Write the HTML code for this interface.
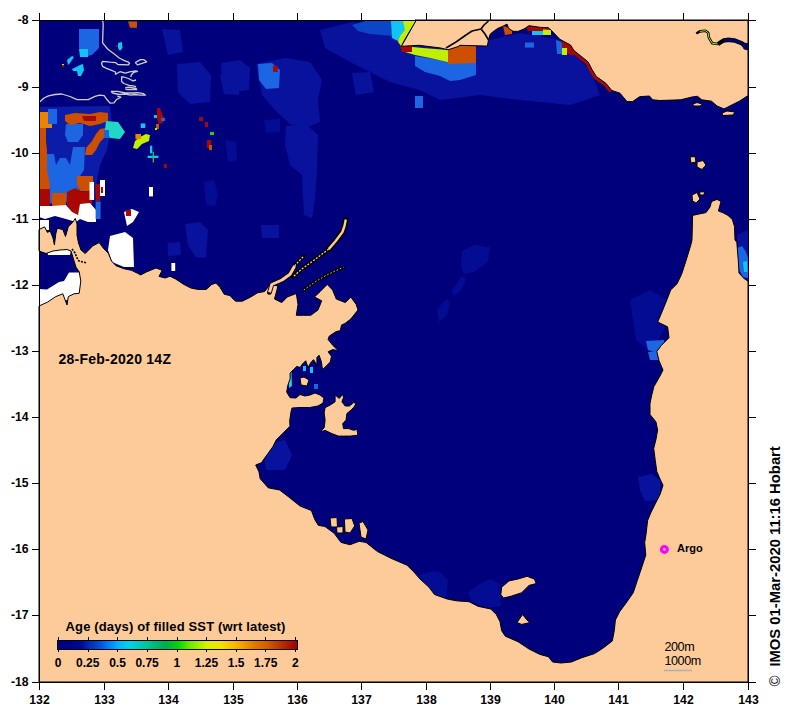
<!DOCTYPE html>
<html><head><meta charset="utf-8"><style>
html,body{margin:0;padding:0;background:#fff;overflow:hidden;width:791px;height:716px;}
svg{display:block}
text{font-family:"Liberation Sans",sans-serif;}
</style></head><body>
<svg width="791" height="716" viewBox="0 0 791 716">
<rect x="39" y="20" width="709" height="662" fill="#00007C"/>
<polygon points="320.0,30.0 352.0,22.0 400.0,30.0 420.0,44.0 470.0,47.0 490.0,40.0 520.0,33.0 560.0,40.0 590.0,70.0 600.0,95.0 570.0,105.0 520.0,100.0 480.0,95.0 440.0,100.0 420.0,90.0 390.0,82.0 350.0,62.0 325.0,48.0" fill="#08129C"/><polygon points="256.0,64.0 285.0,58.0 310.0,62.0 322.0,80.0 318.0,100.0 320.0,122.0 305.0,128.0 290.0,124.0 275.0,110.0 262.0,95.0" fill="#08129C"/><polygon points="286.0,126.0 306.0,124.0 318.0,135.0 317.0,170.0 315.0,200.0 312.0,218.0 304.0,215.0 302.0,175.0 290.0,165.0 285.0,145.0" fill="#08129C"/><polygon points="221.0,63.0 240.0,60.0 250.0,68.0 249.0,90.0 232.0,92.0 222.0,84.0" fill="#08129C"/><polygon points="352.0,73.0 370.0,72.0 374.0,92.0 356.0,95.0" fill="#08129C"/><polygon points="162.0,29.0 180.0,30.0 183.0,52.0 168.0,55.0" fill="#08129C"/><polygon points="177.0,64.0 200.0,62.0 211.0,75.0 210.0,102.0 190.0,104.0 178.0,92.0" fill="#08129C"/><polygon points="220.0,75.0 239.0,74.0 239.0,95.0 224.0,94.0" fill="#08129C"/><polygon points="204.0,182.0 214.0,180.0 218.0,195.0 215.0,206.0 206.0,205.0" fill="#040C93"/><polygon points="225.0,140.0 236.0,142.0 237.0,160.0 228.0,162.0" fill="#040C93"/><polygon points="264.0,120.0 280.0,119.0 280.0,132.0 266.0,133.0" fill="#040C93"/><polygon points="462.0,251.0 474.0,245.0 490.0,247.0 488.0,262.0 474.0,272.0 464.0,274.0 461.0,266.0" fill="#040C93"/><polygon points="452.0,290.0 462.0,276.0 466.0,280.0 460.0,292.0 453.0,296.0" fill="#040C93"/><polygon points="437.0,310.0 446.0,299.0 450.0,302.0 447.0,315.0 439.0,322.0" fill="#040C93"/><polygon points="630.0,300.0 650.0,290.0 668.0,300.0 664.0,330.0 650.0,352.0 636.0,340.0" fill="#040C93"/><polygon points="418.0,576.0 432.0,571.0 440.0,572.0 448.0,580.0 446.0,599.0 432.0,597.0 420.0,588.0" fill="#040C93"/><polygon points="468.0,592.0 480.0,584.0 490.0,579.0 500.0,584.0 501.0,606.0 488.0,608.0 472.0,602.0" fill="#040C93"/><polygon points="262.0,445.0 285.0,440.0 292.0,455.0 285.0,470.0 266.0,470.0" fill="#08129C"/><polygon points="258.0,64.0 272.0,63.0 280.0,70.0 279.0,88.0 266.0,89.0 259.0,80.0" fill="#1C66E4"/><polygon points="352.0,25.0 365.0,21.0 394.0,21.0 394.0,36.0 370.0,34.0 358.0,31.0" fill="#0A46C8"/><polygon points="415.0,56.0 440.0,60.0 476.0,62.0 476.0,75.0 460.0,80.0 450.0,81.0 440.0,76.0 425.0,72.0 415.0,66.0" fill="#1C66E4"/><polygon points="415.0,96.0 423.0,96.0 423.0,108.0 415.0,108.0" fill="#1C66E4"/><polygon points="525.0,42.5 534.0,42.5 534.0,47.6 525.0,47.6" fill="#1C66E4"/><polygon points="737.0,235.0 748.0,230.0 748.0,281.0 740.0,278.0" fill="#08129C"/><polygon points="737.5,248.0 742.0,246.0 746.0,252.0 748.0,258.0 748.0,278.0 743.0,277.0 739.0,270.0" fill="#1C66E4"/><polygon points="743.0,262.0 747.0,261.0 747.5,272.0 744.0,272.0" fill="#10C4F4"/><polygon points="646.0,341.0 664.0,340.0 665.0,350.0 655.0,352.0 648.0,350.0" fill="#1C66E4"/><polygon points="648.0,352.0 667.0,350.0 668.0,360.0 650.0,360.0" fill="#1C66E4"/><polygon points="391.0,21.0 404.0,21.0 407.0,30.0 404.0,40.0 398.0,41.0 392.0,38.0" fill="#10C4F4"/><polygon points="403.0,21.0 415.5,21.0 410.0,30.0 404.0,40.0 401.0,46.0 398.0,42.0 400.0,36.0 405.0,30.0" fill="#C0F000"/><polygon points="403.0,46.0 423.0,48.0 448.0,50.0 448.0,62.0 430.0,58.0 415.0,55.0 405.0,52.0" fill="#C0F000"/><polygon points="400.0,46.0 412.0,46.0 412.0,52.0 402.0,52.0" fill="#A80800"/><polygon points="448.0,46.0 476.0,46.0 476.0,63.0 448.0,64.0" fill="#CC5000"/><polygon points="503.0,26.0 512.0,29.0 512.0,34.0 505.0,35.0" fill="#CC5000"/><polygon points="526.0,26.0 551.0,28.0 551.0,31.0 528.0,31.0" fill="#A80800"/><polygon points="532.0,31.0 543.0,31.0 543.0,35.0 532.0,35.0" fill="#10C4F4"/><polygon points="543.0,29.5 551.0,30.0 551.0,35.0 543.0,35.0" fill="#C0F000"/><polygon points="556.0,40.0 562.0,42.0 563.0,54.0 557.0,54.0" fill="#1C66E4"/><polygon points="562.0,41.0 572.0,46.0 580.0,55.0 570.0,55.0 563.0,50.0" fill="#A80800"/><polygon points="562.0,48.0 567.0,48.0 567.0,55.0 562.0,55.0" fill="#C0F000"/><polygon points="39.0,107.0 110.0,106.0 112.0,125.0 107.0,150.0 100.0,165.0 97.0,180.0 95.0,200.0 39.0,200.0" fill="#0A1CA8"/><polygon points="40.0,112.0 52.0,112.0 52.0,128.0 40.0,128.0" fill="#EC8400"/><polygon points="39.0,128.0 46.0,128.0 46.0,141.0 47.0,150.0 47.0,160.0 52.0,172.0 52.0,197.0 39.0,197.0" fill="#CC5000"/><polygon points="48.0,109.0 57.0,109.0 57.0,124.0 48.0,124.0" fill="#1C66E4"/><polygon points="66.0,124.0 83.0,124.0 83.0,135.0 78.0,142.0 68.0,142.0 65.0,135.0" fill="#1C66E4"/><polygon points="47.0,154.0 54.0,154.0 56.0,165.0 60.0,158.0 66.0,158.0 70.0,165.0 73.0,147.0 85.0,147.0 84.0,170.0 80.0,176.0 77.0,185.0 80.0,192.0 75.0,200.0 67.0,203.0 62.0,195.0 55.0,197.0 51.0,204.0 47.0,200.0 50.0,185.0 47.0,170.0" fill="#1C66E4"/><polygon points="65.0,115.0 75.0,113.0 90.0,114.0 100.0,112.0 108.0,113.0 108.0,121.0 100.0,124.0 90.0,126.0 80.0,123.0 70.0,125.0 65.0,121.0" fill="#CC5000"/><polygon points="82.0,116.0 96.0,116.0 96.0,121.0 84.0,121.0" fill="#A80800"/><polygon points="100.0,129.0 106.0,128.0 106.0,136.0 100.0,142.0 96.0,150.0 92.0,155.0 85.0,155.0 86.0,148.0 92.0,141.0 96.0,134.0" fill="#CC5000"/><polygon points="77.0,176.0 93.0,176.0 93.0,191.0 80.0,191.0 77.0,185.0" fill="#CC5000"/><polygon points="52.0,193.0 66.0,193.0 66.0,206.0 52.0,206.0" fill="#CC5000"/><polygon points="67.0,192.0 75.0,188.0 82.0,192.0 92.0,190.0 92.0,205.0 85.0,210.0 78.0,215.0 72.0,213.0 67.0,205.0" fill="#A80800"/><polygon points="39.0,189.0 50.0,189.0 50.0,207.0 39.0,207.0" fill="#A80800"/><polygon points="39.0,206.0 52.0,206.0 66.0,205.0 72.0,212.0 78.0,215.0 80.0,204.0 90.0,203.0 96.0,210.0 96.0,222.0 88.0,222.0 80.0,219.0 76.0,222.0 66.0,219.0 55.0,216.0 45.0,219.0 39.0,217.0" fill="#FFFFFF"/><polygon points="39.0,220.0 49.0,220.0 49.0,230.0 39.0,230.0" fill="#FFFFFF"/><polygon points="95.6,201.5 100.6,201.5 100.6,219.0 95.6,219.0" fill="#1C66E4"/><polygon points="89.5,182.0 94.0,182.0 94.0,200.0 89.5,200.0" fill="#FFFFFF"/><polygon points="95.5,184.0 100.0,184.0 100.0,201.0 95.5,201.0" fill="#A80800"/><polygon points="100.0,180.0 105.0,180.0 105.0,196.0 100.0,196.0" fill="#FFFFFF"/><polygon points="101.0,187.0 103.0,187.0 103.0,193.0 101.0,193.0" fill="#A80800"/><polygon points="106.0,121.0 118.0,122.0 125.0,132.0 120.0,139.0 110.0,138.0 105.0,130.0" fill="#20D8C8"/><polygon points="104.0,130.0 109.0,130.0 109.0,138.0 104.0,138.0" fill="#1C66E4"/><polygon points="79.0,29.0 99.0,29.0 99.0,48.0 92.0,55.0 83.0,57.0 79.0,48.0" fill="#1C66E4"/><polygon points="79.0,49.0 88.0,49.0 88.0,57.0 80.0,57.0" fill="#10C4F4"/><polygon points="67.0,60.0 72.0,56.0 74.0,57.0 70.0,63.0 68.0,65.0" fill="#10C4F4"/><polygon points="72.0,69.0 80.0,65.0 83.0,64.0 84.0,70.0 81.0,76.0 78.0,76.0 77.0,71.0 73.0,71.0" fill="#10C4F4"/><polygon points="62.0,64.5 64.0,64.5 64.0,67.0 62.0,67.0" fill="#A80800"/><polygon points="62.0,64.0 64.0,64.0 64.0,65.0 62.0,65.0" fill="#C0F000"/><polygon points="118.0,43.0 122.0,42.0 122.5,48.0 120.0,51.0 118.0,48.0" fill="#10C4F4"/><polygon points="116.0,45.0 118.0,45.0 118.0,47.0 116.0,47.0" fill="#A80800"/><polygon points="128.0,21.5 137.0,21.5 137.0,27.7 130.0,27.7" fill="#CC5000"/><polygon points="146.0,134.0 150.0,135.0 149.0,141.0 142.0,144.0 137.0,149.0 133.0,148.0 135.0,141.0 140.0,137.0" fill="#C0F000"/><polygon points="157.0,108.0 160.0,108.0 162.0,114.0 164.0,118.0 163.0,123.0 159.0,124.0 157.0,119.0" fill="#A80800"/><polygon points="154.0,115.0 157.0,115.0 157.0,118.0 154.0,118.0" fill="#10C4F4"/><polygon points="156.0,124.0 159.0,124.0 159.0,129.0 156.0,129.0" fill="#CC5000"/><polygon points="155.0,128.0 157.0,128.0 157.0,130.0 155.0,130.0" fill="#C0F000"/><polygon points="161.0,118.0 165.0,118.0 165.0,121.0 161.0,121.0" fill="#1C66E4"/><polygon points="150.0,145.7 152.3,145.7 152.3,153.4 150.0,153.4" fill="#10C4F4"/><polygon points="147.6,155.7 158.4,155.7 158.4,158.0 147.6,158.0" fill="#10C4F4"/><polygon points="152.6,151.8 154.0,151.8 154.0,162.6 152.6,162.6" fill="#20C040"/><polygon points="140.7,123.4 145.3,123.4 145.3,128.0 140.7,128.0" fill="#10C4F4"/><polygon points="135.4,134.0 141.0,134.0 141.0,139.0 135.4,139.0" fill="#EC8400"/><polygon points="163.8,164.0 166.8,164.0 166.8,168.0 163.8,168.0" fill="#A80800"/><polygon points="149.0,187.0 153.0,187.0 153.0,196.4 149.0,196.4" fill="#FFFFFF"/><polygon points="110.0,236.0 125.0,232.0 133.0,238.0 134.0,267.0 124.0,267.0 112.0,262.0 108.0,250.0" fill="#FFFFFF"/><polygon points="69.0,272.5 81.0,272.5 81.0,296.0 60.0,302.0 39.0,308.0 39.0,289.0 47.0,289.5 59.0,282.0 64.0,281.0" fill="#FFFFFF"/><polygon points="47.0,250.0 58.0,248.0 71.0,250.0 70.0,255.0 58.0,255.0 48.0,255.0" fill="#FFFFFF"/><polygon points="124.0,212.0 132.0,209.0 139.0,212.0 133.0,222.0 127.0,226.0" fill="#FFFFFF"/><polygon points="126.0,210.0 131.0,210.0 131.0,216.0 126.0,216.0" fill="#A80800"/><polygon points="199.0,117.0 203.0,117.0 203.0,121.0 199.0,121.0" fill="#A80800"/><polygon points="205.0,122.0 208.0,122.0 208.0,127.0 205.0,127.0" fill="#A80800"/><polygon points="207.0,140.0 211.0,140.0 211.0,148.0 207.0,148.0" fill="#A80800"/><polygon points="209.0,145.0 212.0,145.0 212.0,150.0 209.0,150.0" fill="#CC5000"/><polygon points="210.0,132.0 214.0,132.0 214.0,135.0 210.0,135.0" fill="#20D020"/><polygon points="273.0,65.7 277.6,65.7 277.6,72.0 273.0,72.0" fill="#A80800"/><polygon points="563.0,40.5 570.5,45.0 574.0,50.6 581.0,56.2 588.0,61.8 592.0,69.5 596.3,76.5 606.0,83.4 611.7,90.4 609.5,92.6 603.8,85.6 594.1,78.7 589.8,71.7 585.8,64.0 578.8,58.4 571.8,52.8 568.3,47.2 560.8,42.7" fill="#A80800"/><polygon points="167.6,243.0 180.0,242.0 181.0,255.0 168.0,256.0" fill="#08129C"/><polygon points="185.0,224.0 200.0,222.0 208.0,230.0 206.0,258.0 196.0,257.0 188.0,245.0" fill="#08129C"/><polygon points="261.0,225.0 279.0,225.0 279.0,238.0 262.0,238.0" fill="#08129C"/><polygon points="171.4,263.0 175.2,263.0 175.2,271.0 171.4,271.0" fill="#FFFFFF"/><polygon points="288.5,372.0 291.5,371.0 292.0,386.0 289.0,388.0" fill="#10C4F4"/><polygon points="289.0,380.0 291.0,380.0 291.0,386.0 289.0,386.0" fill="#20D8C8"/><polygon points="303.0,366.0 306.0,366.0 306.0,371.0 303.0,371.0" fill="#10C4F4"/><polygon points="310.0,367.0 313.0,367.0 313.0,373.0 310.0,373.0" fill="#10C4F4"/><polygon points="314.0,384.0 318.0,384.0 318.0,389.0 314.0,389.0" fill="#1C66E4"/><polygon points="638.0,477.0 652.0,474.0 660.0,480.0 660.0,500.0 645.0,501.0 640.0,490.0" fill="#08129C"/>
<polygon points="415.0,20.0 748.0,20.0 748.0,95.6 739.4,101.2 731.0,105.4 724.0,108.9 717.0,106.0 711.5,101.2 701.7,99.8 697.5,96.3 692.0,97.0 680.7,99.8 659.8,100.5 652.8,99.8 649.4,96.0 639.6,96.7 632.6,101.6 627.0,101.6 620.0,93.2 611.7,90.4 606.0,83.4 596.3,76.5 592.0,69.5 588.0,61.8 581.0,56.2 574.0,50.6 570.5,45.0 560.0,39.4 551.0,30.0 548.0,27.6 540.7,27.4 529.0,25.7 524.0,29.0 518.0,31.4 513.0,31.3 508.6,28.3 507.0,24.1 502.5,26.4 498.0,28.3 494.0,31.0 490.3,34.0 488.8,38.5 487.3,46.1 460.0,45.3 458.0,46.6 448.0,49.8 440.6,48.0 419.0,45.3 401.4,46.3 416.0,20.7" fill="#FCCB99" stroke="#000" stroke-width="1" stroke-linejoin="round"/>
<polygon points="39.0,306.0 47.4,302.2 55.8,296.6 62.8,293.8 67.0,305.0 68.3,296.6 74.0,293.8 79.2,293.3 80.8,281.0 79.2,271.8 76.0,267.2 71.0,251.0 67.0,249.5 60.0,250.0 53.0,251.0 46.0,253.5 39.0,251.0 39.0,229.6 44.6,226.8 47.4,232.4 50.2,231.0 53.0,238.0 54.4,245.0 55.8,233.8 57.2,228.2 62.8,229.6 65.5,236.5 68.3,226.8 72.5,222.6 75.3,218.4 77.0,224.0 77.0,235.0 78.5,243.0 81.0,250.0 85.2,253.5 93.0,245.7 99.2,242.6 103.8,248.8 108.4,253.4 111.5,261.0 116.0,265.7 123.8,268.7 131.4,270.3 137.6,273.3 140.7,274.9 146.8,271.8 156.0,268.0 162.2,270.3 159.0,276.4 165.2,278.0 170.0,276.2 175.6,279.0 179.7,281.7 184.0,284.5 190.9,288.0 197.8,289.4 206.2,289.4 211.7,284.5 215.9,283.1 220.0,287.3 224.2,294.2 229.8,295.6 235.4,301.2 242.3,301.2 250.7,297.0 257.6,292.8 264.6,291.5 270.1,284.5 278.0,286.0 274.5,299.0 281.8,302.6 287.2,297.0 296.3,293.5 298.0,304.4 296.3,315.3 303.6,315.3 310.8,315.3 318.0,310.0 321.7,300.8 314.5,297.0 320.0,291.7 327.2,284.4 332.6,290.0 336.3,299.0 345.3,302.6 350.8,297.0 356.2,304.4 358.0,310.0 350.8,319.0 345.0,323.5 341.5,325.0 340.4,330.6 335.9,331.7 329.2,336.2 328.1,339.5 332.6,345.1 338.2,350.7 332.6,349.6 328.1,351.8 331.5,356.3 330.3,361.9 325.9,366.4 322.5,369.7 321.4,361.9 319.1,355.2 316.9,357.4 316.9,365.3 313.6,359.7 311.3,361.9 308.0,367.5 305.7,360.8 302.4,364.1 300.1,367.5 296.8,366.4 293.4,369.7 290.1,373.1 290.1,378.7 287.8,385.4 286.7,392.1 290.1,397.7 296.0,398.0 300.0,394.5 305.0,396.0 310.0,395.0 315.0,393.0 320.0,395.0 324.0,398.0 323.0,403.0 318.0,406.0 309.7,407.5 300.0,407.5 292.0,408.0 291.0,412.0 289.7,420.8 290.0,426.2 282.7,433.5 276.2,440.0 272.8,446.8 267.0,454.8 261.4,462.8 255.7,465.0 259.0,471.9 260.2,478.7 268.2,487.8 279.6,490.0 288.7,496.9 300.0,506.0 311.4,510.5 314.9,519.7 318.3,525.3 325.0,526.5 334.2,533.3 341.0,542.4 350.0,544.7 359.2,541.3 366.0,542.4 377.4,551.5 391.0,558.3 407.0,565.2 413.9,572.0 420.0,579.0 429.0,587.2 434.5,594.5 447.2,599.0 456.3,600.8 469.0,601.7 478.0,606.3 490.8,609.0 496.3,614.5 500.0,621.7 501.7,630.8 505.3,636.2 518.0,641.7 529.0,649.0 539.8,654.4 548.4,656.7 552.6,662.0 561.0,663.0 571.4,662.0 581.9,657.7 594.5,653.6 602.8,648.3 612.3,641.0 614.3,630.5 615.4,620.0 619.6,611.7 625.9,603.3 633.2,592.8 637.4,580.3 641.6,567.7 645.8,555.0 644.7,542.6 646.0,534.5 647.6,520.6 650.7,513.0 655.3,503.7 660.0,494.5 663.0,485.3 660.0,479.0 656.8,471.5 655.3,460.7 653.7,448.4 656.0,439.2 657.6,430.0 656.0,422.0 650.0,414.5 650.0,403.7 651.5,396.0 653.8,386.8 660.0,376.0 663.0,370.0 659.0,360.7 656.8,351.5 661.4,345.4 669.0,337.7 667.6,326.8 657.7,322.0 661.5,313.0 666.0,302.0 670.7,290.0 677.0,283.8 681.5,274.5 686.0,260.7 690.7,245.4 692.0,240.0 692.6,215.4 699.0,214.0 706.0,212.6 710.0,207.0 711.5,201.5 717.0,199.4 721.0,201.5 718.4,211.0 722.6,212.6 728.0,215.4 732.4,219.6 734.5,226.6 735.0,240.0 736.8,242.3 738.3,260.7 739.0,273.0 744.5,279.0 748.0,281.0 748.0,682.0 39.0,682.0" fill="#FCCB99" stroke="#000" stroke-width="1" stroke-linejoin="round"/>
<polygon points="325.1,407.6 330.1,405.1 335.1,401.8 335.1,395.0 339.3,398.4 342.7,394.2 343.5,397.6 341.9,401.8 345.2,406.0 349.4,406.0 353.6,402.6 356.1,403.4 353.6,407.6 351.0,410.1 346.9,413.5 346.0,420.2 342.7,423.6 343.5,428.6 348.6,428.6 353.6,430.3 357.0,429.4 357.8,435.3 350.2,436.1 343.5,436.1 338.5,436.1 331.8,433.6 325.1,430.3 320.0,432.0 324.2,427.7 325.1,420.2 324.2,412.7" fill="#FCCB99" stroke="#000" stroke-width="1" stroke-linejoin="round"/><polygon points="500.8,594.5 501.7,587.2 509.0,580.9 518.0,579.0 527.0,576.3 534.4,579.0 536.2,583.6 529.0,585.4 521.7,592.7 510.8,596.3 503.5,598.0" fill="#FCCB99" stroke="#000" stroke-width="1" stroke-linejoin="round"/><polygon points="300.0,378.0 304.0,377.0 309.0,380.0 307.0,386.0 301.0,385.0" fill="#FCCB99" stroke="#000" stroke-width="1" stroke-linejoin="round"/><polygon points="517.0,622.6 522.6,614.5 527.0,620.0 530.0,622.6 521.7,624.4" fill="#FCCB99" stroke="#000" stroke-width="1" stroke-linejoin="round"/><polygon points="330.0,518.0 337.0,517.5 337.5,527.0 331.0,527.0" fill="#FCCB99" stroke="#000" stroke-width="1" stroke-linejoin="round"/><polygon points="336.5,527.0 343.0,526.5 343.0,533.0 337.0,533.0" fill="#FCCB99" stroke="#000" stroke-width="1" stroke-linejoin="round"/><polygon points="344.4,519.0 352.0,518.5 354.7,526.0 350.0,533.0 345.0,532.0" fill="#FCCB99" stroke="#000" stroke-width="1" stroke-linejoin="round"/><polygon points="359.0,523.0 363.0,521.5 368.0,530.0 366.0,539.0 361.0,537.0" fill="#FCCB99" stroke="#000" stroke-width="1" stroke-linejoin="round"/><polygon points="690.0,157.0 695.0,156.5 696.0,162.0 691.0,163.0" fill="#FCCB99" stroke="#000" stroke-width="1" stroke-linejoin="round"/><polygon points="697.0,162.0 703.0,160.5 706.0,165.0 702.0,169.5 697.0,167.0" fill="#FCCB99" stroke="#000" stroke-width="1" stroke-linejoin="round"/><polygon points="692.0,195.0 697.0,192.5 700.0,199.0 696.0,203.0 692.5,201.0" fill="#FCCB99" stroke="#000" stroke-width="1" stroke-linejoin="round"/><polygon points="699.6,192.0 704.5,191.7 704.0,195.0 700.0,195.0" fill="#FCCB99" stroke="#000" stroke-width="1" stroke-linejoin="round"/><polygon points="692.6,104.0 697.0,102.6 702.4,104.0 700.0,106.0 694.0,106.0" fill="#FCCB99" stroke="#000" stroke-width="1" stroke-linejoin="round"/><polygon points="722.0,113.0 727.0,111.0 735.0,112.0 733.0,115.0 723.0,115.5" fill="#FCCB99" stroke="#000" stroke-width="1" stroke-linejoin="round"/>
<polyline points="102.6,20.5 103.2,23.8 102.6,42.8 107.6,49.0 115.5,55.0 119.3,58.0 123.8,60.3 128.4,62.2 129.5,63.3 128.4,64.9 117.8,64.5 115.5,62.6 110.2,62.2 102.6,61.4 101.5,63.3 102.6,66.4 106.4,68.3 111.0,70.2 115.5,72.0 115.5,74.3 120.0,71.7 125.3,73.2 130.7,71.7 136.0,71.0 137.5,71.3 133.7,72.5 131.4,74.7 130.7,77.0" fill="none" stroke="#CFCFC6" stroke-width="1.3" stroke-linejoin="round"/>
<polyline points="135.2,62.6 140.5,59.6 143.6,59.6 146.6,61.8 142.0,63.3 137.5,64.9 135.2,62.6" fill="none" stroke="#CFCFC6" stroke-width="1.3" stroke-linejoin="round"/>
<polyline points="123.8,77.0 121.6,77.0 121.6,81.6 123.8,83.5 129.1,85.3 134.5,86.1 136.0,86.9" fill="none" stroke="#CFCFC6" stroke-width="1.3" stroke-linejoin="round"/>
<polyline points="123.8,77.0 128.4,78.5 133.0,80.8 136.0,80.0" fill="none" stroke="#CFCFC6" stroke-width="1.3" stroke-linejoin="round"/>
<polyline points="125.3,87.6 129.0,87.2 136.0,88.4 136.7,89.5 126.9,89.5 125.3,88.8" fill="none" stroke="#CFCFC6" stroke-width="1.3" stroke-linejoin="round"/>
<polyline points="112.5,93.0 111.3,91.4 117.8,91.4 125.3,93.0 133.0,93.0 137.5,92.6 143.6,93.7 145.5,95.2 140.5,95.2 134.5,94.5 130.7,95.2 125.3,94.0 119.3,94.5 112.5,93.0" fill="none" stroke="#CFCFC6" stroke-width="1.3" stroke-linejoin="round"/>
<polyline points="39.0,102.5 44.0,98.0 48.5,95.9 55.0,94.5 61.8,94.0 70.0,96.5 77.0,99.6 88.3,99.6 95.0,96.4 99.6,95.2 104.1,95.6 107.1,99.8 110.2,103.2 114.0,102.8 116.2,99.8 120.8,97.1 117.0,96.0" fill="none" stroke="#CFCFC6" stroke-width="1.3" stroke-linejoin="round"/>
<polyline points="345.8,219.6 344.5,226.0 342.4,232.0 335.5,241.2 328.7,249.1" fill="none" stroke="#000" stroke-width="5.8" stroke-linecap="round" stroke-linejoin="round"/>
<polyline points="328.7,249.1 319.6,256.0 310.5,262.8 302.5,268.5 293.4,276.4" fill="none" stroke="#000" stroke-width="4.1" stroke-linecap="round" stroke-linejoin="round"/>
<polyline points="269.5,292.4 271.8,284.5 282.0,280.0 290.0,274.2 294.6,266.0" fill="none" stroke="#000" stroke-width="4.8" stroke-linecap="round" stroke-linejoin="round"/>
<polyline points="294.6,266.0 300.0,260.0 304.0,256.0" fill="none" stroke="#000" stroke-width="3.5" stroke-linecap="round" stroke-linejoin="round"/>
<polyline points="303.7,290.0 315.0,282.0 325.0,276.0 335.0,271.0 343.5,267.3" fill="none" stroke="#000" stroke-width="3.2" stroke-linecap="round" stroke-linejoin="round"/>
<polyline points="345.8,219.6 344.5,226.0 342.4,232.0 335.5,241.2 328.7,249.1" fill="none" stroke="#FCCB99" stroke-width="2.4" stroke-linejoin="round"/>
<polyline points="328.7,249.1 319.6,256.0 310.5,262.8 302.5,268.5 293.4,276.4" fill="none" stroke="#FCCB99" stroke-width="1.3" stroke-linejoin="round" stroke-dasharray="2 1.5"/>
<polyline points="269.5,292.4 271.8,284.5 282.0,280.0 290.0,274.2 294.6,266.0" fill="none" stroke="#FCCB99" stroke-width="3.0" stroke-linejoin="round"/>
<polyline points="294.6,266.0 300.0,260.0 304.0,256.0" fill="none" stroke="#FCCB99" stroke-width="1.3" stroke-linejoin="round" stroke-dasharray="2 1.5"/>
<polyline points="303.7,290.0 315.0,282.0 325.0,276.0 335.0,271.0 343.5,267.3" fill="none" stroke="#FCCB99" stroke-width="1.0" stroke-linejoin="round" stroke-dasharray="1.5 2"/>
<polyline points="72.0,249.0 75.0,253.0 77.0,258.0 79.0,261.0 83.0,262.0 87.0,263.0" fill="none" stroke="#000" stroke-width="1.6" stroke-dasharray="2 1.2"/>
<polyline points="696.3,33.5 699.8,31.4 705.4,30.7 708.2,32.8 708.9,37.7 712.3,43.3 718.0,44.0 723.5,40.5" fill="none" stroke="#000" stroke-width="2.6" stroke-linejoin="round"/>
<polyline points="699.8,31.4 705.4,30.7 708.2,32.8 708.9,37.7 712.3,43.3 718.0,44.0" fill="none" stroke="#A8E000" stroke-width="1" stroke-linejoin="round"/>
<polyline points="718.0,44.0 723.5,40.5 727.7,39.8 734.7,40.5 741.7,43.3 748.0,47.5" fill="none" stroke="#000" stroke-width="4.4" stroke-linejoin="round"/>
<polyline points="723.5,40.5 727.7,39.8 734.7,40.5 741.7,43.3 748.0,47.5" fill="none" stroke="#00007C" stroke-width="2.6" stroke-linejoin="round"/>
<polygon points="741,43 748,43.5 748,50 744,49" fill="#00007C" stroke="#000" stroke-width="0.8"/>
<polyline points="446.0,48.0 456.0,42.0 466.0,35.0 472.0,31.0 481.0,29.0 484.0,25.0 488.5,21.0" fill="none" stroke="#000" stroke-width="1.6" stroke-linejoin="round"/>
<polyline points="481.5,29.5 485.0,34.0 488.5,40.0" fill="none" stroke="#000" stroke-width="1.6" stroke-linejoin="round"/>
<g shape-rendering="crispEdges" stroke="#000" stroke-width="1">
<rect x="39.5" y="20.5" width="709" height="662" fill="none"/>
<line x1="39.5" y1="13" x2="39.5" y2="20"/>
<line x1="39.5" y1="683" x2="39.5" y2="690"/>
<line x1="104.5" y1="13" x2="104.5" y2="20"/>
<line x1="104.5" y1="683" x2="104.5" y2="690"/>
<line x1="168.5" y1="13" x2="168.5" y2="20"/>
<line x1="168.5" y1="683" x2="168.5" y2="690"/>
<line x1="233.5" y1="13" x2="233.5" y2="20"/>
<line x1="233.5" y1="683" x2="233.5" y2="690"/>
<line x1="297.5" y1="13" x2="297.5" y2="20"/>
<line x1="297.5" y1="683" x2="297.5" y2="690"/>
<line x1="361.5" y1="13" x2="361.5" y2="20"/>
<line x1="361.5" y1="683" x2="361.5" y2="690"/>
<line x1="426.5" y1="13" x2="426.5" y2="20"/>
<line x1="426.5" y1="683" x2="426.5" y2="690"/>
<line x1="490.5" y1="13" x2="490.5" y2="20"/>
<line x1="490.5" y1="683" x2="490.5" y2="690"/>
<line x1="554.5" y1="13" x2="554.5" y2="20"/>
<line x1="554.5" y1="683" x2="554.5" y2="690"/>
<line x1="618.5" y1="13" x2="618.5" y2="20"/>
<line x1="618.5" y1="683" x2="618.5" y2="690"/>
<line x1="683.5" y1="13" x2="683.5" y2="20"/>
<line x1="683.5" y1="683" x2="683.5" y2="690"/>
<line x1="748.5" y1="13" x2="748.5" y2="20"/>
<line x1="748.5" y1="683" x2="748.5" y2="690"/>
<line x1="32" y1="20.5" x2="39" y2="20.5"/>
<line x1="749" y1="20.5" x2="756" y2="20.5"/>
<line x1="32" y1="87.5" x2="39" y2="87.5"/>
<line x1="749" y1="87.5" x2="756" y2="87.5"/>
<line x1="32" y1="153.5" x2="39" y2="153.5"/>
<line x1="749" y1="153.5" x2="756" y2="153.5"/>
<line x1="32" y1="219.5" x2="39" y2="219.5"/>
<line x1="749" y1="219.5" x2="756" y2="219.5"/>
<line x1="32" y1="285.5" x2="39" y2="285.5"/>
<line x1="749" y1="285.5" x2="756" y2="285.5"/>
<line x1="32" y1="351.5" x2="39" y2="351.5"/>
<line x1="749" y1="351.5" x2="756" y2="351.5"/>
<line x1="32" y1="417.5" x2="39" y2="417.5"/>
<line x1="749" y1="417.5" x2="756" y2="417.5"/>
<line x1="32" y1="483.5" x2="39" y2="483.5"/>
<line x1="749" y1="483.5" x2="756" y2="483.5"/>
<line x1="32" y1="549.5" x2="39" y2="549.5"/>
<line x1="749" y1="549.5" x2="756" y2="549.5"/>
<line x1="32" y1="615.5" x2="39" y2="615.5"/>
<line x1="749" y1="615.5" x2="756" y2="615.5"/>
<line x1="32" y1="682.5" x2="39" y2="682.5"/>
<line x1="749" y1="682.5" x2="756" y2="682.5"/>
</g>
<text x="39.5" y="704" font-size="12.2" font-weight="bold" text-anchor="middle">132</text>
<text x="104.5" y="704" font-size="12.2" font-weight="bold" text-anchor="middle">133</text>
<text x="168.5" y="704" font-size="12.2" font-weight="bold" text-anchor="middle">134</text>
<text x="233.5" y="704" font-size="12.2" font-weight="bold" text-anchor="middle">135</text>
<text x="297.5" y="704" font-size="12.2" font-weight="bold" text-anchor="middle">136</text>
<text x="361.5" y="704" font-size="12.2" font-weight="bold" text-anchor="middle">137</text>
<text x="426.5" y="704" font-size="12.2" font-weight="bold" text-anchor="middle">138</text>
<text x="490.5" y="704" font-size="12.2" font-weight="bold" text-anchor="middle">139</text>
<text x="554.5" y="704" font-size="12.2" font-weight="bold" text-anchor="middle">140</text>
<text x="618.5" y="704" font-size="12.2" font-weight="bold" text-anchor="middle">141</text>
<text x="683.5" y="704" font-size="12.2" font-weight="bold" text-anchor="middle">142</text>
<text x="748.5" y="704" font-size="12.2" font-weight="bold" text-anchor="middle">143</text>
<text x="28.5" y="23.9" font-size="12.2" font-weight="bold" text-anchor="end">-8</text>
<text x="28.5" y="90.9" font-size="12.2" font-weight="bold" text-anchor="end">-9</text>
<text x="28.5" y="156.9" font-size="12.2" font-weight="bold" text-anchor="end">-10</text>
<text x="28.5" y="222.9" font-size="12.2" font-weight="bold" text-anchor="end">-11</text>
<text x="28.5" y="288.9" font-size="12.2" font-weight="bold" text-anchor="end">-12</text>
<text x="28.5" y="354.9" font-size="12.2" font-weight="bold" text-anchor="end">-13</text>
<text x="28.5" y="420.9" font-size="12.2" font-weight="bold" text-anchor="end">-14</text>
<text x="28.5" y="486.9" font-size="12.2" font-weight="bold" text-anchor="end">-15</text>
<text x="28.5" y="552.9" font-size="12.2" font-weight="bold" text-anchor="end">-16</text>
<text x="28.5" y="618.9" font-size="12.2" font-weight="bold" text-anchor="end">-17</text>
<text x="28.5" y="685.9" font-size="12.2" font-weight="bold" text-anchor="end">-18</text>
<text x="58.5" y="364" font-size="14" font-weight="bold" letter-spacing="0.25">28-Feb-2020 14Z</text>
<rect x="58" y="641" width="1" height="8" fill="rgb(0, 0, 130)"/>
<rect x="59" y="641" width="1" height="8" fill="rgb(0, 0, 131)"/>
<rect x="60" y="641" width="1" height="8" fill="rgb(0, 0, 132)"/>
<rect x="61" y="641" width="1" height="8" fill="rgb(0, 0, 133)"/>
<rect x="62" y="641" width="1" height="8" fill="rgb(0, 0, 134)"/>
<rect x="63" y="641" width="1" height="8" fill="rgb(0, 0, 135)"/>
<rect x="64" y="641" width="1" height="8" fill="rgb(0, 0, 135)"/>
<rect x="65" y="641" width="1" height="8" fill="rgb(0, 0, 136)"/>
<rect x="66" y="641" width="1" height="8" fill="rgb(0, 0, 137)"/>
<rect x="67" y="641" width="1" height="8" fill="rgb(0, 0, 138)"/>
<rect x="68" y="641" width="1" height="8" fill="rgb(0, 0, 139)"/>
<rect x="69" y="641" width="1" height="8" fill="rgb(0, 0, 140)"/>
<rect x="70" y="641" width="1" height="8" fill="rgb(0, 0, 140)"/>
<rect x="71" y="641" width="1" height="8" fill="rgb(0, 1, 141)"/>
<rect x="72" y="641" width="1" height="8" fill="rgb(0, 2, 142)"/>
<rect x="73" y="641" width="1" height="8" fill="rgb(0, 3, 143)"/>
<rect x="74" y="641" width="1" height="8" fill="rgb(0, 4, 144)"/>
<rect x="75" y="641" width="1" height="8" fill="rgb(0, 5, 145)"/>
<rect x="76" y="641" width="1" height="8" fill="rgb(0, 5, 145)"/>
<rect x="77" y="641" width="1" height="8" fill="rgb(0, 6, 146)"/>
<rect x="78" y="641" width="1" height="8" fill="rgb(0, 7, 147)"/>
<rect x="79" y="641" width="1" height="8" fill="rgb(0, 8, 148)"/>
<rect x="80" y="641" width="1" height="8" fill="rgb(0, 9, 149)"/>
<rect x="81" y="641" width="1" height="8" fill="rgb(0, 10, 150)"/>
<rect x="82" y="641" width="1" height="8" fill="rgb(0, 13, 152)"/>
<rect x="83" y="641" width="1" height="8" fill="rgb(0, 18, 156)"/>
<rect x="84" y="641" width="1" height="8" fill="rgb(0, 23, 159)"/>
<rect x="85" y="641" width="1" height="8" fill="rgb(0, 28, 163)"/>
<rect x="86" y="641" width="1" height="8" fill="rgb(0, 33, 167)"/>
<rect x="87" y="641" width="1" height="8" fill="rgb(0, 38, 170)"/>
<rect x="88" y="641" width="1" height="8" fill="rgb(0, 42, 174)"/>
<rect x="89" y="641" width="1" height="8" fill="rgb(0, 45, 178)"/>
<rect x="90" y="641" width="1" height="8" fill="rgb(0, 49, 182)"/>
<rect x="91" y="641" width="1" height="8" fill="rgb(0, 52, 186)"/>
<rect x="92" y="641" width="1" height="8" fill="rgb(0, 56, 189)"/>
<rect x="93" y="641" width="1" height="8" fill="rgb(0, 59, 193)"/>
<rect x="94" y="641" width="1" height="8" fill="rgb(0, 62, 197)"/>
<rect x="95" y="641" width="1" height="8" fill="rgb(0, 66, 201)"/>
<rect x="96" y="641" width="1" height="8" fill="rgb(0, 69, 205)"/>
<rect x="97" y="641" width="1" height="8" fill="rgb(0, 73, 208)"/>
<rect x="98" y="641" width="1" height="8" fill="rgb(0, 76, 212)"/>
<rect x="99" y="641" width="1" height="8" fill="rgb(0, 79, 216)"/>
<rect x="100" y="641" width="1" height="8" fill="rgb(0, 83, 220)"/>
<rect x="101" y="641" width="1" height="8" fill="rgb(0, 87, 224)"/>
<rect x="102" y="641" width="1" height="8" fill="rgb(0, 93, 228)"/>
<rect x="103" y="641" width="1" height="8" fill="rgb(0, 98, 232)"/>
<rect x="104" y="641" width="1" height="8" fill="rgb(0, 104, 236)"/>
<rect x="105" y="641" width="1" height="8" fill="rgb(0, 110, 240)"/>
<rect x="106" y="641" width="1" height="8" fill="rgb(0, 115, 243)"/>
<rect x="107" y="641" width="1" height="8" fill="rgb(0, 121, 244)"/>
<rect x="108" y="641" width="1" height="8" fill="rgb(0, 126, 245)"/>
<rect x="109" y="641" width="1" height="8" fill="rgb(0, 132, 246)"/>
<rect x="110" y="641" width="1" height="8" fill="rgb(0, 137, 247)"/>
<rect x="111" y="641" width="1" height="8" fill="rgb(0, 143, 248)"/>
<rect x="112" y="641" width="1" height="8" fill="rgb(0, 148, 249)"/>
<rect x="113" y="641" width="1" height="8" fill="rgb(0, 154, 250)"/>
<rect x="114" y="641" width="1" height="8" fill="rgb(0, 159, 251)"/>
<rect x="115" y="641" width="1" height="8" fill="rgb(0, 165, 252)"/>
<rect x="116" y="641" width="1" height="8" fill="rgb(0, 170, 254)"/>
<rect x="117" y="641" width="1" height="8" fill="rgb(0, 176, 255)"/>
<rect x="118" y="641" width="1" height="8" fill="rgb(0, 180, 254)"/>
<rect x="119" y="641" width="1" height="8" fill="rgb(0, 183, 252)"/>
<rect x="120" y="641" width="1" height="8" fill="rgb(0, 185, 250)"/>
<rect x="121" y="641" width="1" height="8" fill="rgb(0, 188, 248)"/>
<rect x="122" y="641" width="1" height="8" fill="rgb(0, 191, 246)"/>
<rect x="123" y="641" width="1" height="8" fill="rgb(0, 194, 244)"/>
<rect x="124" y="641" width="1" height="8" fill="rgb(0, 197, 242)"/>
<rect x="125" y="641" width="1" height="8" fill="rgb(0, 200, 240)"/>
<rect x="126" y="641" width="1" height="8" fill="rgb(0, 202, 238)"/>
<rect x="127" y="641" width="1" height="8" fill="rgb(0, 205, 237)"/>
<rect x="128" y="641" width="1" height="8" fill="rgb(0, 208, 235)"/>
<rect x="129" y="641" width="1" height="8" fill="rgb(0, 211, 233)"/>
<rect x="130" y="641" width="1" height="8" fill="rgb(0, 211, 229)"/>
<rect x="131" y="641" width="1" height="8" fill="rgb(0, 210, 224)"/>
<rect x="132" y="641" width="1" height="8" fill="rgb(0, 209, 220)"/>
<rect x="133" y="641" width="1" height="8" fill="rgb(0, 209, 215)"/>
<rect x="134" y="641" width="1" height="8" fill="rgb(0, 208, 211)"/>
<rect x="135" y="641" width="1" height="8" fill="rgb(0, 207, 206)"/>
<rect x="136" y="641" width="1" height="8" fill="rgb(0, 206, 202)"/>
<rect x="137" y="641" width="1" height="8" fill="rgb(0, 205, 197)"/>
<rect x="138" y="641" width="1" height="8" fill="rgb(0, 204, 193)"/>
<rect x="139" y="641" width="1" height="8" fill="rgb(0, 203, 188)"/>
<rect x="140" y="641" width="1" height="8" fill="rgb(0, 202, 183)"/>
<rect x="141" y="641" width="1" height="8" fill="rgb(0, 201, 179)"/>
<rect x="142" y="641" width="1" height="8" fill="rgb(0, 200, 174)"/>
<rect x="143" y="641" width="1" height="8" fill="rgb(0, 199, 170)"/>
<rect x="144" y="641" width="1" height="8" fill="rgb(0, 198, 165)"/>
<rect x="145" y="641" width="1" height="8" fill="rgb(0, 197, 161)"/>
<rect x="146" y="641" width="1" height="8" fill="rgb(0, 196, 156)"/>
<rect x="147" y="641" width="1" height="8" fill="rgb(0, 195, 151)"/>
<rect x="148" y="641" width="1" height="8" fill="rgb(0, 194, 147)"/>
<rect x="149" y="641" width="1" height="8" fill="rgb(0, 193, 142)"/>
<rect x="150" y="641" width="1" height="8" fill="rgb(0, 192, 138)"/>
<rect x="151" y="641" width="1" height="8" fill="rgb(0, 191, 134)"/>
<rect x="152" y="641" width="1" height="8" fill="rgb(0, 190, 129)"/>
<rect x="153" y="641" width="1" height="8" fill="rgb(0, 189, 125)"/>
<rect x="154" y="641" width="1" height="8" fill="rgb(0, 188, 120)"/>
<rect x="155" y="641" width="1" height="8" fill="rgb(0, 186, 116)"/>
<rect x="156" y="641" width="1" height="8" fill="rgb(0, 185, 111)"/>
<rect x="157" y="641" width="1" height="8" fill="rgb(0, 184, 107)"/>
<rect x="158" y="641" width="1" height="8" fill="rgb(0, 183, 102)"/>
<rect x="159" y="641" width="1" height="8" fill="rgb(0, 182, 98)"/>
<rect x="160" y="641" width="1" height="8" fill="rgb(0, 181, 93)"/>
<rect x="161" y="641" width="1" height="8" fill="rgb(0, 180, 89)"/>
<rect x="162" y="641" width="1" height="8" fill="rgb(0, 179, 85)"/>
<rect x="163" y="641" width="1" height="8" fill="rgb(0, 178, 80)"/>
<rect x="164" y="641" width="1" height="8" fill="rgb(0, 176, 76)"/>
<rect x="165" y="641" width="1" height="8" fill="rgb(0, 175, 71)"/>
<rect x="166" y="641" width="1" height="8" fill="rgb(0, 177, 66)"/>
<rect x="167" y="641" width="1" height="8" fill="rgb(0, 180, 61)"/>
<rect x="168" y="641" width="1" height="8" fill="rgb(0, 183, 56)"/>
<rect x="169" y="641" width="1" height="8" fill="rgb(0, 187, 51)"/>
<rect x="170" y="641" width="1" height="8" fill="rgb(0, 190, 46)"/>
<rect x="171" y="641" width="1" height="8" fill="rgb(0, 193, 41)"/>
<rect x="172" y="641" width="1" height="8" fill="rgb(0, 196, 36)"/>
<rect x="173" y="641" width="1" height="8" fill="rgb(0, 199, 31)"/>
<rect x="174" y="641" width="1" height="8" fill="rgb(0, 202, 26)"/>
<rect x="175" y="641" width="1" height="8" fill="rgb(0, 205, 21)"/>
<rect x="176" y="641" width="1" height="8" fill="rgb(0, 208, 16)"/>
<rect x="177" y="641" width="1" height="8" fill="rgb(0, 211, 11)"/>
<rect x="178" y="641" width="1" height="8" fill="rgb(7, 213, 9)"/>
<rect x="179" y="641" width="1" height="8" fill="rgb(16, 215, 9)"/>
<rect x="180" y="641" width="1" height="8" fill="rgb(25, 217, 8)"/>
<rect x="181" y="641" width="1" height="8" fill="rgb(34, 218, 7)"/>
<rect x="182" y="641" width="1" height="8" fill="rgb(44, 220, 6)"/>
<rect x="183" y="641" width="1" height="8" fill="rgb(53, 222, 5)"/>
<rect x="184" y="641" width="1" height="8" fill="rgb(62, 223, 4)"/>
<rect x="185" y="641" width="1" height="8" fill="rgb(71, 225, 4)"/>
<rect x="186" y="641" width="1" height="8" fill="rgb(80, 227, 3)"/>
<rect x="187" y="641" width="1" height="8" fill="rgb(90, 228, 2)"/>
<rect x="188" y="641" width="1" height="8" fill="rgb(99, 230, 1)"/>
<rect x="189" y="641" width="1" height="8" fill="rgb(108, 232, 0)"/>
<rect x="190" y="641" width="1" height="8" fill="rgb(115, 232, 0)"/>
<rect x="191" y="641" width="1" height="8" fill="rgb(121, 233, 0)"/>
<rect x="192" y="641" width="1" height="8" fill="rgb(127, 234, 0)"/>
<rect x="193" y="641" width="1" height="8" fill="rgb(133, 234, 0)"/>
<rect x="194" y="641" width="1" height="8" fill="rgb(139, 235, 0)"/>
<rect x="195" y="641" width="1" height="8" fill="rgb(145, 235, 0)"/>
<rect x="196" y="641" width="1" height="8" fill="rgb(151, 236, 0)"/>
<rect x="197" y="641" width="1" height="8" fill="rgb(157, 236, 0)"/>
<rect x="198" y="641" width="1" height="8" fill="rgb(163, 237, 0)"/>
<rect x="199" y="641" width="1" height="8" fill="rgb(169, 237, 0)"/>
<rect x="200" y="641" width="1" height="8" fill="rgb(175, 238, 0)"/>
<rect x="201" y="641" width="1" height="8" fill="rgb(181, 239, 0)"/>
<rect x="202" y="641" width="1" height="8" fill="rgb(187, 239, 0)"/>
<rect x="203" y="641" width="1" height="8" fill="rgb(193, 240, 0)"/>
<rect x="204" y="641" width="1" height="8" fill="rgb(199, 240, 0)"/>
<rect x="205" y="641" width="1" height="8" fill="rgb(205, 241, 0)"/>
<rect x="206" y="641" width="1" height="8" fill="rgb(211, 241, 0)"/>
<rect x="207" y="641" width="1" height="8" fill="rgb(217, 242, 0)"/>
<rect x="208" y="641" width="1" height="8" fill="rgb(220, 241, 0)"/>
<rect x="209" y="641" width="1" height="8" fill="rgb(222, 240, 0)"/>
<rect x="210" y="641" width="1" height="8" fill="rgb(224, 238, 0)"/>
<rect x="211" y="641" width="1" height="8" fill="rgb(226, 237, 0)"/>
<rect x="212" y="641" width="1" height="8" fill="rgb(228, 236, 0)"/>
<rect x="213" y="641" width="1" height="8" fill="rgb(230, 234, 0)"/>
<rect x="214" y="641" width="1" height="8" fill="rgb(232, 233, 0)"/>
<rect x="215" y="641" width="1" height="8" fill="rgb(234, 232, 0)"/>
<rect x="216" y="641" width="1" height="8" fill="rgb(236, 231, 0)"/>
<rect x="217" y="641" width="1" height="8" fill="rgb(238, 229, 0)"/>
<rect x="218" y="641" width="1" height="8" fill="rgb(240, 228, 0)"/>
<rect x="219" y="641" width="1" height="8" fill="rgb(242, 227, 0)"/>
<rect x="220" y="641" width="1" height="8" fill="rgb(244, 225, 0)"/>
<rect x="221" y="641" width="1" height="8" fill="rgb(245, 223, 0)"/>
<rect x="222" y="641" width="1" height="8" fill="rgb(245, 220, 0)"/>
<rect x="223" y="641" width="1" height="8" fill="rgb(246, 217, 0)"/>
<rect x="224" y="641" width="1" height="8" fill="rgb(246, 214, 0)"/>
<rect x="225" y="641" width="1" height="8" fill="rgb(246, 211, 0)"/>
<rect x="226" y="641" width="1" height="8" fill="rgb(247, 208, 0)"/>
<rect x="227" y="641" width="1" height="8" fill="rgb(247, 205, 0)"/>
<rect x="228" y="641" width="1" height="8" fill="rgb(247, 202, 0)"/>
<rect x="229" y="641" width="1" height="8" fill="rgb(248, 199, 0)"/>
<rect x="230" y="641" width="1" height="8" fill="rgb(248, 196, 0)"/>
<rect x="231" y="641" width="1" height="8" fill="rgb(248, 193, 0)"/>
<rect x="232" y="641" width="1" height="8" fill="rgb(248, 190, 0)"/>
<rect x="233" y="641" width="1" height="8" fill="rgb(249, 187, 0)"/>
<rect x="234" y="641" width="1" height="8" fill="rgb(249, 184, 0)"/>
<rect x="235" y="641" width="1" height="8" fill="rgb(249, 181, 0)"/>
<rect x="236" y="641" width="1" height="8" fill="rgb(250, 178, 0)"/>
<rect x="237" y="641" width="1" height="8" fill="rgb(250, 175, 0)"/>
<rect x="238" y="641" width="1" height="8" fill="rgb(249, 172, 0)"/>
<rect x="239" y="641" width="1" height="8" fill="rgb(248, 169, 0)"/>
<rect x="240" y="641" width="1" height="8" fill="rgb(246, 166, 0)"/>
<rect x="241" y="641" width="1" height="8" fill="rgb(245, 162, 0)"/>
<rect x="242" y="641" width="1" height="8" fill="rgb(244, 159, 0)"/>
<rect x="243" y="641" width="1" height="8" fill="rgb(242, 156, 0)"/>
<rect x="244" y="641" width="1" height="8" fill="rgb(241, 152, 0)"/>
<rect x="245" y="641" width="1" height="8" fill="rgb(240, 149, 0)"/>
<rect x="246" y="641" width="1" height="8" fill="rgb(238, 146, 0)"/>
<rect x="247" y="641" width="1" height="8" fill="rgb(237, 143, 0)"/>
<rect x="248" y="641" width="1" height="8" fill="rgb(236, 139, 0)"/>
<rect x="249" y="641" width="1" height="8" fill="rgb(234, 136, 0)"/>
<rect x="250" y="641" width="1" height="8" fill="rgb(233, 133, 0)"/>
<rect x="251" y="641" width="1" height="8" fill="rgb(232, 129, 0)"/>
<rect x="252" y="641" width="1" height="8" fill="rgb(230, 126, 0)"/>
<rect x="253" y="641" width="1" height="8" fill="rgb(229, 123, 0)"/>
<rect x="254" y="641" width="1" height="8" fill="rgb(228, 120, 0)"/>
<rect x="255" y="641" width="1" height="8" fill="rgb(227, 118, 0)"/>
<rect x="256" y="641" width="1" height="8" fill="rgb(225, 116, 0)"/>
<rect x="257" y="641" width="1" height="8" fill="rgb(224, 113, 0)"/>
<rect x="258" y="641" width="1" height="8" fill="rgb(223, 111, 0)"/>
<rect x="259" y="641" width="1" height="8" fill="rgb(222, 109, 0)"/>
<rect x="260" y="641" width="1" height="8" fill="rgb(221, 107, 0)"/>
<rect x="261" y="641" width="1" height="8" fill="rgb(219, 105, 0)"/>
<rect x="262" y="641" width="1" height="8" fill="rgb(218, 103, 0)"/>
<rect x="263" y="641" width="1" height="8" fill="rgb(217, 101, 0)"/>
<rect x="264" y="641" width="1" height="8" fill="rgb(216, 99, 0)"/>
<rect x="265" y="641" width="1" height="8" fill="rgb(215, 96, 0)"/>
<rect x="266" y="641" width="1" height="8" fill="rgb(213, 94, 0)"/>
<rect x="267" y="641" width="1" height="8" fill="rgb(212, 92, 0)"/>
<rect x="268" y="641" width="1" height="8" fill="rgb(210, 89, 0)"/>
<rect x="269" y="641" width="1" height="8" fill="rgb(209, 86, 0)"/>
<rect x="270" y="641" width="1" height="8" fill="rgb(207, 82, 0)"/>
<rect x="271" y="641" width="1" height="8" fill="rgb(205, 79, 0)"/>
<rect x="272" y="641" width="1" height="8" fill="rgb(203, 76, 0)"/>
<rect x="273" y="641" width="1" height="8" fill="rgb(202, 72, 0)"/>
<rect x="274" y="641" width="1" height="8" fill="rgb(200, 69, 0)"/>
<rect x="275" y="641" width="1" height="8" fill="rgb(198, 65, 0)"/>
<rect x="276" y="641" width="1" height="8" fill="rgb(196, 62, 0)"/>
<rect x="277" y="641" width="1" height="8" fill="rgb(195, 59, 0)"/>
<rect x="278" y="641" width="1" height="8" fill="rgb(193, 55, 0)"/>
<rect x="279" y="641" width="1" height="8" fill="rgb(191, 52, 0)"/>
<rect x="280" y="641" width="1" height="8" fill="rgb(190, 49, 0)"/>
<rect x="281" y="641" width="1" height="8" fill="rgb(188, 45, 0)"/>
<rect x="282" y="641" width="1" height="8" fill="rgb(186, 42, 0)"/>
<rect x="283" y="641" width="1" height="8" fill="rgb(184, 39, 0)"/>
<rect x="284" y="641" width="1" height="8" fill="rgb(183, 36, 0)"/>
<rect x="285" y="641" width="1" height="8" fill="rgb(181, 33, 0)"/>
<rect x="286" y="641" width="1" height="8" fill="rgb(179, 31, 0)"/>
<rect x="287" y="641" width="1" height="8" fill="rgb(177, 28, 0)"/>
<rect x="288" y="641" width="1" height="8" fill="rgb(176, 25, 0)"/>
<rect x="289" y="641" width="1" height="8" fill="rgb(174, 22, 0)"/>
<rect x="290" y="641" width="1" height="8" fill="rgb(172, 19, 0)"/>
<rect x="291" y="641" width="1" height="8" fill="rgb(170, 17, 0)"/>
<rect x="292" y="641" width="1" height="8" fill="rgb(169, 14, 0)"/>
<rect x="293" y="641" width="1" height="8" fill="rgb(167, 11, 0)"/>
<rect x="294" y="641" width="1" height="8" fill="rgb(165, 8, 0)"/>
<rect x="295" y="641" width="1" height="8" fill="rgb(163, 6, 0)"/>
<rect x="296" y="641" width="1" height="8" fill="rgb(162, 3, 0)"/>
<rect x="297" y="641" width="1" height="8" fill="rgb(160, 0, 0)"/>
<rect x="57.5" y="640.5" width="240.0" height="9" fill="none" stroke="#000" stroke-width="1"/>
<line x1="58.5" y1="637" x2="58.5" y2="641" stroke="#000" stroke-width="1" shape-rendering="crispEdges"/>
<line x1="58.5" y1="649" x2="58.5" y2="652" stroke="#000" stroke-width="1" shape-rendering="crispEdges"/>
<text x="58.2" y="666.7" font-size="12" font-weight="bold" text-anchor="middle">0</text>
<line x1="88.5" y1="637" x2="88.5" y2="641" stroke="#000" stroke-width="1" shape-rendering="crispEdges"/>
<line x1="88.5" y1="649" x2="88.5" y2="652" stroke="#000" stroke-width="1" shape-rendering="crispEdges"/>
<text x="87.8" y="666.7" font-size="12" font-weight="bold" text-anchor="middle">0.25</text>
<line x1="117.5" y1="637" x2="117.5" y2="641" stroke="#000" stroke-width="1" shape-rendering="crispEdges"/>
<line x1="117.5" y1="649" x2="117.5" y2="652" stroke="#000" stroke-width="1" shape-rendering="crispEdges"/>
<text x="117.5" y="666.7" font-size="12" font-weight="bold" text-anchor="middle">0.5</text>
<line x1="147.5" y1="637" x2="147.5" y2="641" stroke="#000" stroke-width="1" shape-rendering="crispEdges"/>
<line x1="147.5" y1="649" x2="147.5" y2="652" stroke="#000" stroke-width="1" shape-rendering="crispEdges"/>
<text x="147.1" y="666.7" font-size="12" font-weight="bold" text-anchor="middle">0.75</text>
<line x1="177.5" y1="637" x2="177.5" y2="641" stroke="#000" stroke-width="1" shape-rendering="crispEdges"/>
<line x1="177.5" y1="649" x2="177.5" y2="652" stroke="#000" stroke-width="1" shape-rendering="crispEdges"/>
<text x="176.8" y="666.7" font-size="12" font-weight="bold" text-anchor="middle">1</text>
<line x1="206.5" y1="637" x2="206.5" y2="641" stroke="#000" stroke-width="1" shape-rendering="crispEdges"/>
<line x1="206.5" y1="649" x2="206.5" y2="652" stroke="#000" stroke-width="1" shape-rendering="crispEdges"/>
<text x="206.4" y="666.7" font-size="12" font-weight="bold" text-anchor="middle">1.25</text>
<line x1="236.5" y1="637" x2="236.5" y2="641" stroke="#000" stroke-width="1" shape-rendering="crispEdges"/>
<line x1="236.5" y1="649" x2="236.5" y2="652" stroke="#000" stroke-width="1" shape-rendering="crispEdges"/>
<text x="236.1" y="666.7" font-size="12" font-weight="bold" text-anchor="middle">1.5</text>
<line x1="265.5" y1="637" x2="265.5" y2="641" stroke="#000" stroke-width="1" shape-rendering="crispEdges"/>
<line x1="265.5" y1="649" x2="265.5" y2="652" stroke="#000" stroke-width="1" shape-rendering="crispEdges"/>
<text x="265.8" y="666.7" font-size="12" font-weight="bold" text-anchor="middle">1.75</text>
<line x1="295.5" y1="637" x2="295.5" y2="641" stroke="#000" stroke-width="1" shape-rendering="crispEdges"/>
<line x1="295.5" y1="649" x2="295.5" y2="652" stroke="#000" stroke-width="1" shape-rendering="crispEdges"/>
<text x="295.4" y="666.7" font-size="12" font-weight="bold" text-anchor="middle">2</text>
<text x="65.5" y="631" font-size="13" font-weight="bold" letter-spacing="0.15">Age (days) of filled SST (wrt latest)</text>
<circle cx="664.4" cy="549.4" r="2.9" fill="none" stroke="#FF00FF" stroke-width="3.2"/>
<text x="677" y="552.3" font-size="11" font-weight="bold">Argo</text>
<text x="664.5" y="651" font-size="12.6" letter-spacing="-0.45">200m</text>
<text x="664.5" y="665" font-size="12.6" letter-spacing="-0.45">1000m</text>
<line x1="664" y1="670.5" x2="692" y2="670.5" stroke="#A9B1BF" stroke-width="1.5"/>
<text transform="translate(780.4,686.6) rotate(-90)" font-size="15" font-weight="normal">©</text>
<text transform="translate(780.2,666.6) rotate(-90)" font-size="14.8" font-weight="bold">IMOS 01-Mar-2020 11:16 Hobart</text>
</svg>
</body></html>
